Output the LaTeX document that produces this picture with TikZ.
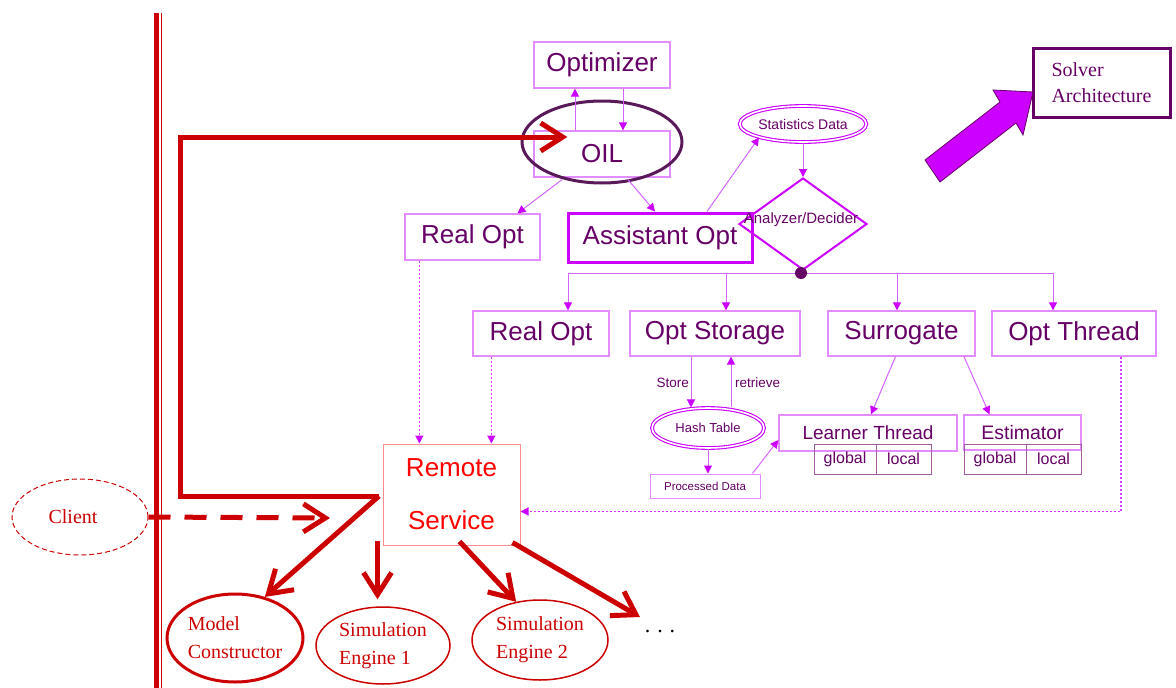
\documentclass[tikz,border=0pt]{standalone}
\usepackage{fontspec}
\setmainfont{Liberation Serif}
\newfontfamily\arialf{Liberation Sans}
\usetikzlibrary{arrows.meta,shapes.geometric}

\definecolor{ink}{HTML}{660066}
\definecolor{mag}{HTML}{CC00FF}
\definecolor{magline}{HTML}{D466FF}
\definecolor{boxline}{HTML}{E38CFF}
\definecolor{cellline}{HTML}{9E5E9E}
\definecolor{rd}{HTML}{CC0000}
\definecolor{brightred}{HTML}{FF0000}
\definecolor{pinkline}{HTML}{FF8C8C}
\definecolor{ringcol}{HTML}{5A1A5A}

\newcommand\psz[2]{\fontsize{#1pt}{#2pt}\selectfont}

\begin{document}
\begin{tikzpicture}[x=1pt,y=-1pt,
  box/.style={rectangle, draw=boxline, line width=1.3pt, inner sep=0pt,
    text=ink, font=\arialf\psz{26}{30}},
  cell/.style={rectangle, draw=cellline, line width=1pt, inner sep=0pt,
    minimum height=30pt, text=ink, font=\arialf\psz{16}{18}},
  dblell/.style={ellipse, draw=mag, line width=1.1pt, double=white,
    double distance=1.6pt, inner sep=0pt, text=ink},
  lbl/.style={text=ink, inner sep=0pt, font=\arialf\psz{13.5}{15}},
  redell/.style={ellipse, draw=rd, line width=1.5pt, inner sep=0pt,
    text=rd, font=\psz{20}{28}, align=left},
  marrow/.style={draw=magline, line width=1pt,
    -{Triangle[length=8pt,width=8pt,color=mag]}},
  mdash/.style={marrow, draw=mag!80, line width=1.2pt, dash pattern=on 2pt off 2pt},
  redarrow/.style={draw=rd, line width=5pt, line join=miter,
    -{Straight Barb[length=22pt,width=28pt]}},
]
\fill[white] (0,0) rectangle (1176,688);
\useasboundingbox (0,0) rectangle (1176,688);

% boundary between client side and server side
\draw[rd, line width=4.5pt] (156.5,13) -- (156.5,688);
\draw[rd, line width=1.6pt] (161.5,13) -- (161.5,688);

% optimizer core
\node[box, minimum width=136pt, minimum height=46pt] (opt) at (602,65) {Optimizer};
\node[box, minimum width=136pt, minimum height=46pt] (oil) at (602,154) {OIL};
\node[ellipse, draw=ringcol, line width=3pt, inner sep=0pt,
      minimum width=160pt, minimum height=82pt] (ring) at (602,142) {};
\node[box, minimum width=135pt, minimum height=46pt] (realA) at (472.5,237) {Real Opt};
\node[box, draw=mag, line width=3pt, minimum width=184pt, minimum height=49pt]
      (asst) at (660,237.5) {Assistant Opt};
\node[dblell, minimum width=114pt, minimum height=36pt, font=\arialf\psz{14}{16}]
      (stats) at (803,124) {Statistics Data};
\node[diamond, draw=mag, line width=2pt, inner sep=0pt,
      minimum width=128pt, minimum height=92pt] (dec) at (803,224) {};
\node[text=ink, inner sep=0pt, font=\arialf\psz{15}{17}] (declbl) at (801,220) {Analyzer/Decider};
\coordinate (hub) at (801,273);

% second row
\node[box, minimum width=136pt, minimum height=45pt] (rob) at (541,333.5) {Real Opt};
\node[box, minimum width=170pt, minimum height=45pt] (store) at (715,333.5) {Opt Storage};
\node[box, minimum width=147pt, minimum height=45pt] (surr) at (901.5,333.5) {Surrogate};
\node[box, minimum width=164pt, minimum height=45pt] (thr) at (1074,333.5) {Opt Thread};

% storage and surrogate details
\node[dblell, minimum width=112pt, minimum height=40pt, font=\arialf\psz{13}{15}]
      (hash) at (708,428) {Hash Table};
\node[box, line width=1pt, minimum width=110pt, minimum height=24pt,
      font=\arialf\psz{11.5}{13}] (proc) at (705,486) {Processed Data};
\node[box, minimum width=178pt, minimum height=36pt, font=\arialf\psz{19}{22}]
      (learn) at (868,433) {Learner Thread};
\node[cell, minimum width=62pt] (lg) at (845,459) {global};
\node[cell, minimum width=55pt] (ll) at (903.5,459) {local};
\node[box, minimum width=117pt, minimum height=35pt, font=\arialf\psz{19.5}{22}]
      (est) at (1022.5,432.5) {Estimator};
\node[cell, minimum width=62pt] (eg) at (995,459) {global};
\node[cell, minimum width=55pt] (el) at (1053.5,459) {local};

% remote side
\node[rectangle, draw=pinkline, line width=1pt, inner sep=0pt,
      minimum width=137pt, minimum height=101pt, text=brightred,
      font=\arialf\psz{26}{53}, align=center] (remote) at (451.5,494.5) {Remote\\Service};
\node[ellipse, draw=rd, line width=1pt, dash pattern=on 5pt off 3pt, inner sep=0pt,
      minimum width=136pt, minimum height=76pt, text=rd, font=\psz{20}{24}]
      (client) at (80,517) {Client\hspace*{14pt}};
\node[redell, line width=3pt, minimum width=136pt, minimum height=88pt]
      (mc) at (235,638) {Model\\Constructor};
\node[redell, minimum width=134pt, minimum height=77pt] (se1) at (383,645.5) {Simulation\\Engine 1};
\node[redell, minimum width=136pt, minimum height=80pt] (se2) at (540,640) {Simulation\\Engine 2};
\node[font=\psz{22}{24}, inner sep=0pt] (more) at (660,632) {.\hspace{7pt}.\hspace{7pt}.};

% title box and its pointer
\node[rectangle, draw=ink, line width=3pt, inner sep=0pt, minimum width=137pt,
      minimum height=69pt, text=ink, font=\psz{20}{26}, align=left]
      (solver) at (1101.5,82.5) {Solver\\Architecture};
\draw[ink, line width=0.8pt, fill=mag] (925,160) -- (1000,102) -- (993,90)
      -- (1033,92) -- (1023,135) -- (1016,123) -- (940,182) -- cycle;

% optimizer connectors
\draw[marrow] ([shift={(-27,0)}]oil.north) -- ([shift={(-27,0)}]opt.south);
\draw[marrow] ([shift={(21,0)}]opt.south) -- ([shift={(21,0)}]oil.north);
\draw[marrow] ([shift={(-40,2)}]oil.south) -- ([shift={(45,0)}]realA.north);
\draw[marrow] ([shift={(26,2)}]oil.south) -- ([shift={(-5,0)}]asst.north);
\draw[marrow] ([shift={(47,0)}]asst.north) -- (stats.197);
\draw[marrow] (stats.south) -- (dec.north);
\draw[marrow] (hub) -| ([shift={(27,0)}]rob.north);
\draw[marrow] (hub) -| ([shift={(11,0)}]store.north);
\draw[marrow] (hub) -| ([shift={(-4.5,0)}]surr.north);
\draw[marrow] (hub) -| ([shift={(-21,0)}]thr.north);
\node[circle, fill=ink, inner sep=0pt, minimum size=12pt] (hubdot) at (hub) {};

% storage connectors
\coordinate (st) at ([shift={(-24,0)}]store.south);
\coordinate (rt) at ([shift={(16,0)}]store.south);
\draw[marrow] (st) -- (st |- hash.north);
\draw[marrow] (rt |- hash.north) -- (rt);
\node[lbl, anchor=east] (storelbl) at (689,383) {Store};
\node[lbl, anchor=west] (retrlbl) at (735,383) {retrieve};
\draw[marrow] (hash.south) -- (hash.south |- proc.north);
\draw[marrow] ([shift={(-8,0)}]proc.north east) -- ([shift={(0,7)}]learn.west);
\draw[marrow] ([shift={(-6,0)}]surr.south) -- ([shift={(3,0)}]learn.north);
\draw[marrow] ([shift={(62.5,0)}]surr.south) -- ([shift={(-33,0)}]est.north);

% calls into the remote service
\coordinate (ra) at ([shift={(15,0)}]realA.south west);
\coordinate (rb) at ([shift={(19,0)}]rob.south west);
\draw[mdash] (ra) -- (ra |- remote.north);
\draw[mdash] (rb) -- (rb |- remote.north);
\draw[mdash] ([shift={(47,0)}]thr.south) |- ([shift={(0,17)}]remote.east);

% remote service links
\coordinate (k) at (379,496);
\coordinate (bend) at (180,137);
\coordinate (cltip) at (330,518);
\coordinate (r1) at ([shift={(-5,-5)}]remote.south west);
\draw[redarrow] (k) -| (bend) -- ([shift={(34,-17)}]oil.west);
\draw[redarrow] (k) -- (mc.54);
\draw[redarrow, shorten >=7pt] (r1) -- (r1 |- se1.north);
\draw[redarrow] ([shift={(8,-4)}]remote.south) -- (se2.122);
\draw[redarrow] ([shift={(-8,-3)}]remote.south east) -- ([shift={(-20,-15)}]more.center);
\draw[redarrow, dash pattern=on 22pt off 14pt] (client.east) -- (cltip);
\end{tikzpicture}
\end{document}
